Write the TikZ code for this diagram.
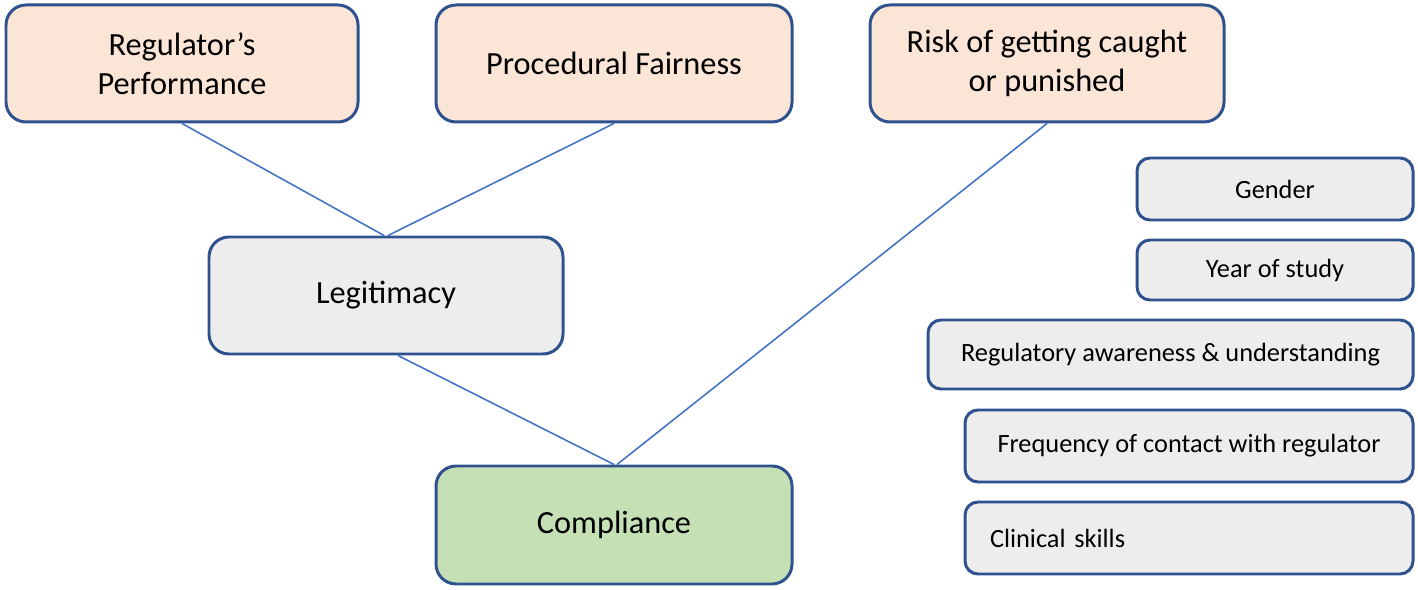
\documentclass[tikz,border=0pt]{standalone}
\usepackage{fontspec}
\setmainfont{Carlito}
\definecolor{boxline}{HTML}{2F528F}
\definecolor{linkline}{HTML}{4472C4}
\definecolor{peach}{HTML}{FBE5D6}
\definecolor{lightgray}{HTML}{EDEDED}
\definecolor{lightgreen}{HTML}{C5E0B4}
\tikzset{
  bigbox/.style={draw=boxline, line width=0.85pt, rounded corners=0.2cm,
    minimum width=3.54cm, minimum height=1.17cm, align=center,
    font=\fontsize{9.2}{11}\selectfont},
  smallbox/.style={draw=boxline, line width=0.85pt, rounded corners=0.13cm,
    fill=lightgray, minimum width=2.76cm, minimum height=0.62cm,
    font=\fontsize{7.5}{9}\selectfont},
  link/.style={draw=linkline, line width=0.45pt}
}
\begin{document}
\begin{tikzpicture}
    \useasboundingbox (0,0) rectangle (14.18,5.89);
    \node[bigbox, fill=peach, minimum width=3.52cm] (perf) at (1.82,5.255) {Regulator’s\\Performance};
    \node[bigbox, fill=peach, minimum width=3.56cm] (fair) at (6.14,5.255) {Procedural Fairness};
    \node[bigbox, fill=peach] (risk) at (10.47,5.255) {Risk of getting caught\\or punished};
    \node[bigbox, fill=lightgray] (legit) at (3.86,2.935) {Legitimacy};
    \node[bigbox, fill=lightgreen, minimum width=3.56cm, minimum height=1.18cm] (comp) at (6.14,0.64) {Compliance};
    \node[smallbox] (gender) at (12.75,4.00) {Gender};
    \node[smallbox, minimum height=0.60cm] (year) at (12.75,3.19) {Year of study};
    \node[smallbox, minimum width=4.85cm, minimum height=0.69cm] (aware) at (11.705,2.345) {Regulatory awareness \& understanding};
    \node[smallbox, minimum width=4.48cm, minimum height=0.72cm] (freq) at (11.89,1.43) {Frequency of contact with regulator};
    \node[smallbox, minimum width=4.48cm, minimum height=0.72cm, text width=3.98cm, align=left] (clin) at (11.89,0.51) {Clinical skills};
    \draw[link] (perf.south) -- ([xshift=-0.02cm]legit.north);
    \draw[link] (fair.south) -- ([xshift=0.02cm]legit.north);
    \draw[link] ([xshift=0.12cm]legit.south) -- (comp.north);
    \draw[link] (risk.south) -- ([xshift=0.03cm]comp.north);
\end{tikzpicture}
\end{document}
